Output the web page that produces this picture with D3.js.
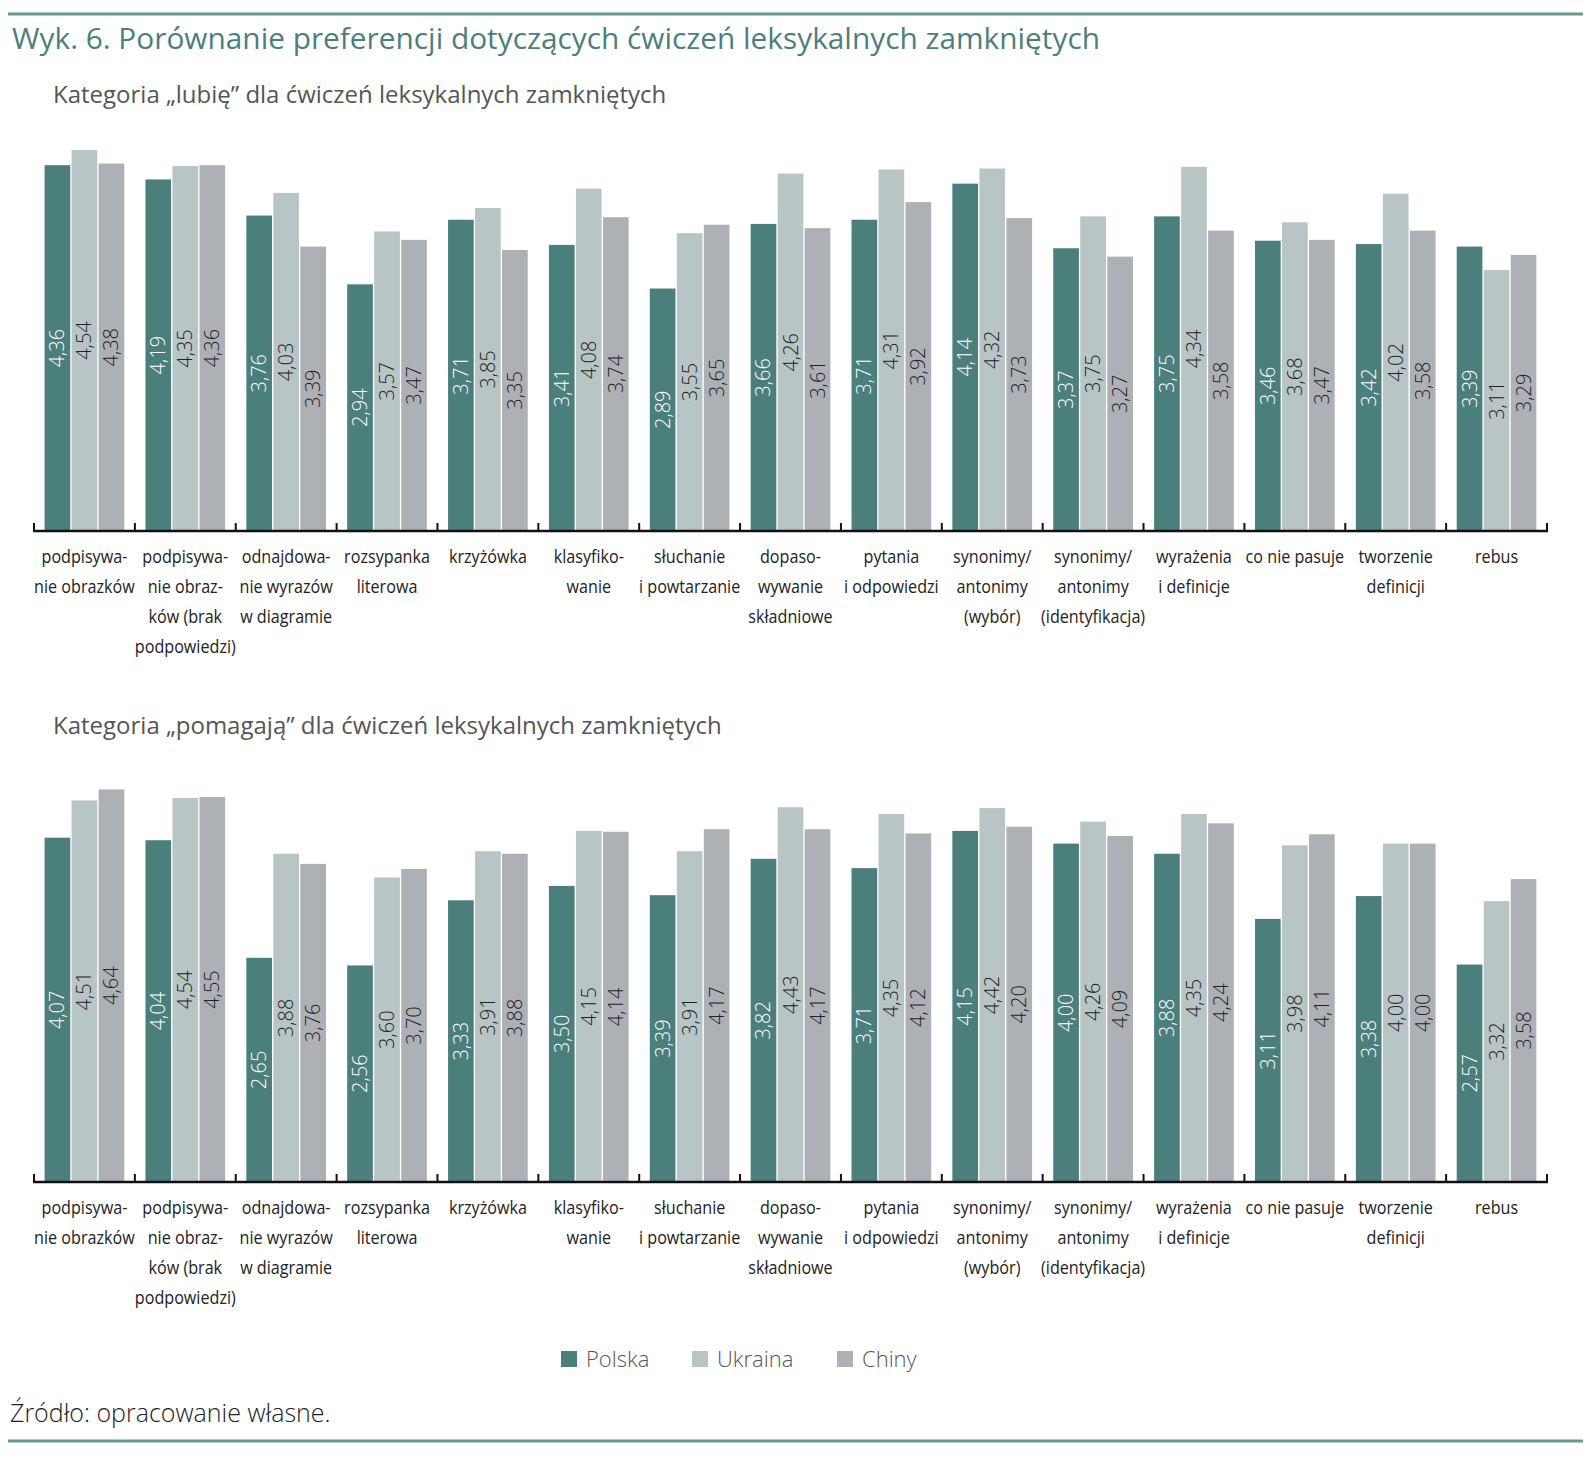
<!DOCTYPE html>
<html>
<head>
<meta charset="utf-8">
<script src="https://cdn.jsdelivr.net/npm/d3@7/dist/d3.min.js"></script>
<style>
  body { margin: 0; background: #fff; }
  svg { display: block; }
  text { font-family: "Open Sans", "DejaVu Sans", sans-serif; }
</style>
</head>
<body>
<svg id="chart" width="1594" height="1460"></svg>
<script>
// ---------- DATA ----------
const categories = [
  ["podpisywa-", "nie obrazków"],
  ["podpisywa-", "nie obraz-", "ków (brak", "podpowiedzi)"],
  ["odnajdowa-", "nie  wyrazów", "w diagramie"],
  ["rozsypanka", "literowa"],
  ["krzyżówka"],
  ["klasyfiko-", "wanie"],
  ["słuchanie", "i powtarzanie"],
  ["dopaso-", "wywanie", "składniowe"],
  ["pytania", "i odpowiedzi"],
  ["synonimy/", "antonimy", "(wybór)"],
  ["synonimy/", "antonimy", "(identyfikacja)"],
  ["wyrażenia", "i definicje"],
  ["co nie pasuje"],
  ["tworzenie", "definicji"],
  ["rebus"]
];
const seriesNames = ["Polska", "Ukraina", "Chiny"];

const lubiePolska  = [4.36, 4.19, 3.76, 2.94, 3.71, 3.41, 2.89, 3.66, 3.71, 4.14, 3.37, 3.75, 3.46, 3.42, 3.39];
const lubieUkraina = [4.54, 4.35, 4.03, 3.57, 3.85, 4.08, 3.55, 4.26, 4.31, 4.32, 3.75, 4.34, 3.68, 4.02, 3.11];
const lubieChiny   = [4.38, 4.36, 3.39, 3.47, 3.35, 3.74, 3.65, 3.61, 3.92, 3.73, 3.27, 3.58, 3.47, 3.58, 3.29];

const pomPolska  = [4.07, 4.04, 2.65, 2.56, 3.33, 3.50, 3.39, 3.82, 3.71, 4.15, 4.00, 3.88, 3.11, 3.38, 2.57];
const pomUkraina = [4.51, 4.54, 3.88, 3.60, 3.91, 4.15, 3.91, 4.43, 4.35, 4.42, 4.26, 4.35, 3.98, 4.00, 3.32];
const pomChiny   = [4.64, 4.55, 3.76, 3.70, 3.88, 4.14, 4.17, 4.17, 4.12, 4.20, 4.09, 4.24, 4.11, 4.00, 3.58];

const titleText = "Wyk. 6. Porównanie preferencji dotyczących ćwiczeń leksykalnych zamkniętych";
const subtitle1 = "Kategoria „lubię” dla ćwiczeń leksykalnych zamkniętych";
const subtitle2 = "Kategoria „pomagają” dla ćwiczeń leksykalnych zamkniętych";
const sourceText = "Źródło: opracowanie własne.";

// ---------- STYLE ----------
const colors = ["#4b7f7b", "#b7c5c5", "#adb1b5"];
const labelColors = ["#ffffff", "#222222", "#222222"];
const teal = "#4b7f7b";

const svg = d3.select("#chart");
const fmt = d3.formatLocale({decimal: ",", thousands: " ", grouping: [3], currency: ["", ""]}).format(".2f");

// frame lines
svg.append("line").attr("x1", 8).attr("x2", 1583).attr("y1", 14).attr("y2", 14)
  .attr("stroke", "#6a9894").attr("stroke-width", 3);
svg.append("line").attr("x1", 8).attr("x2", 1583).attr("y1", 1441).attr("y2", 1441)
  .attr("stroke", "#6a9894").attr("stroke-width", 3);

svg.append("text").attr("x", 12).attr("y", 49)
  .attr("fill", teal).attr("font-size", 29).attr("font-weight", 500)
  .attr("textLength", 1088).attr("lengthAdjust", "spacingAndGlyphs")
  .text(titleText);

const x0 = d3.scaleBand().domain(d3.range(categories.length))
  .range([34, 1547]).paddingInner(0.21).paddingOuter(0.105);
const x1 = d3.scaleBand().domain(seriesNames).range([0, x0.bandwidth()]).paddingInner(0.05);

function drawPanel(cfg) {
  const g = svg.append("g");
  const y = d3.scaleLinear().domain([0, 5]).range([cfg.base, cfg.top]);
  const series = [cfg.p, cfg.u, cfg.c];

  g.append("text").attr("x", 53).attr("y", cfg.subY)
    .attr("fill", "#555").attr("font-size", 24).attr("font-weight", 500)
    .text(cfg.subtitle);

  categories.forEach((cat, i) => {
    const gg = g.append("g").attr("transform", `translate(${x0(i)},0)`);
    seriesNames.forEach((s, k) => {
      const v = series[k][i];
      const bx = x1(s), bw = x1.bandwidth();
      gg.append("rect").attr("x", bx).attr("y", y(v))
        .attr("width", bw).attr("height", y(0) - y(v))
        .attr("fill", colors[k]);
      const cx = bx + bw / 2, cy = (y(v) + y(0)) / 2;
      gg.append("text")
        .attr("transform", `translate(${cx},${cy}) rotate(-90)`)
        .attr("text-anchor", "middle").attr("dy", "0.35em")
        .attr("font-size", 20).attr("font-weight", 300)
        .attr("fill", labelColors[k])
        .text(fmt(v));
    });
  });

  // axis
  const r0 = x0.range()[0], r1 = x0.range()[1], step = x0.step();
  g.append("line").attr("x1", r0 - 1).attr("x2", r1 + 1).attr("y1", y(0)).attr("y2", y(0))
    .attr("stroke", "#111").attr("stroke-width", 2.5);
  d3.range(categories.length + 1).forEach(i => {
    const tx = r0 + i * step;
    g.append("line").attr("x1", tx).attr("x2", tx).attr("y1", y(0)).attr("y2", y(0) - 8)
      .attr("stroke", "#111").attr("stroke-width", 2);
  });

  // category labels
  categories.forEach((cat, i) => {
    const cx = x0(i) + x0.bandwidth() / 2;
    const t = g.append("g").attr("transform", `translate(${cx},${cfg.labY}) scale(0.85,1)`)
      .append("text").attr("text-anchor", "middle")
      .attr("font-size", 19).attr("font-weight", 400).attr("fill", "#222");
    cat.forEach((line, j) => {
      t.append("tspan").attr("x", 0).attr("y", j * 30).text(line);
    });
  });
}

drawPanel({subtitle: subtitle1, subY: 103, base: 531, top: 111.5, labY: 563,
  p: lubiePolska, u: lubieUkraina, c: lubieChiny});
drawPanel({subtitle: subtitle2, subY: 734, base: 1182, top: 759, labY: 1214,
  p: pomPolska, u: pomUkraina, c: pomChiny});

// legend
const legX = [561, 692, 837];
seriesNames.forEach((s, k) => {
  svg.append("rect").attr("x", legX[k]).attr("y", 1351).attr("width", 16).attr("height", 16)
    .attr("fill", colors[k]);
  svg.append("text").attr("x", legX[k] + 25).attr("y", 1367)
    .attr("font-size", 22).attr("fill", "#555").attr("font-weight", 300).text(s);
});

svg.append("text").attr("x", 10).attr("y", 1422)
  .attr("font-size", 25).attr("fill", "#222").attr("font-weight", 300).text(sourceText);
</script>
</body>
</html>
